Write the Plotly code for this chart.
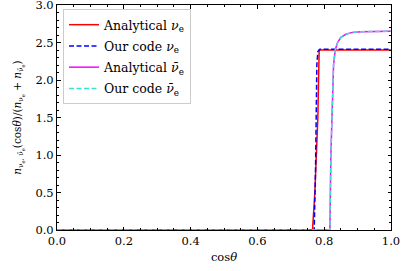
import plotly.graph_objects as go

# Data
red_x = [0.0, 0.765, 0.772, 0.777, 0.781, 0.783, 0.785, 1.0]
red_y = [0.0, 0.0, 0.5, 1.0, 1.5, 2.0, 2.40, 2.40]

blue_x = [0.0, 0.770, 0.774, 0.777, 0.778, 0.781, 0.787, 1.0]
blue_y = [0.0, 0.0, 0.8, 1.6, 2.2, 2.38, 2.41, 2.41]

mag_x = [0.0, 0.817, 0.820, 0.824, 0.828, 0.833, 0.840, 0.850, 0.865, 0.885, 0.910, 1.0]
mag_y = [0.0, 0.0, 1.0, 1.8, 2.2, 2.4, 2.5, 2.57, 2.61, 2.635, 2.645, 2.65]

cyan_x = [0.0, 0.817, 0.820, 0.824, 0.828, 0.833, 0.840, 0.850, 0.865, 0.885, 0.910, 1.0]
cyan_y = [0.0, 0.0, 1.0, 1.8, 2.2, 2.4, 2.5, 2.57, 2.61, 2.635, 2.645, 2.65]

names = ["Analytical <i>ν</i><sub>e</sub>", "Our code <i>ν</i><sub>e</sub>",
         "Analytical <i>ν̄</i><sub>e</sub>", "Our code <i>ν̄</i><sub>e</sub>"]

x_ticks = [0.0, 0.2, 0.4, 0.6, 0.8, 1.0]
y_ticks = [0.0, 0.5, 1.0, 1.5, 2.0, 2.5, 3.0]

FONT = "DejaVu Serif"
DASH = "5px,2.5px"

fig = go.Figure()
fig.add_trace(go.Scatter(x=red_x, y=red_y, mode="lines", name=names[0], legendgroup="a",
                         line=dict(color="red", width=1.5)))
fig.add_trace(go.Scatter(x=blue_x, y=blue_y, mode="lines", name=names[1], legendgroup="b",
                         line=dict(color="blue", width=1.5, dash=DASH)))
fig.add_trace(go.Scatter(x=mag_x, y=mag_y, mode="lines", name=names[2], legendgroup="c",
                         line=dict(color="magenta", width=1.5)))
fig.add_trace(go.Scatter(x=cyan_x, y=cyan_y, mode="lines", name=names[3], legendgroup="d",
                         line=dict(color="#40e0d0", width=1.5, dash=DASH)))

axis_common = dict(
    showgrid=False, zeroline=False, showline=True, linecolor="black",
    linewidth=1, mirror="allticks", ticks="inside", ticklen=3.5,
    tickcolor="black", tickwidth=0.8, automargin=False,
    ticklabeloverflow="allow",
    tickfont=dict(family=FONT, size=11.5, color="black"),
)

fig.update_xaxes(
    range=[0, 1], tickvals=x_ticks, ticktext=[f"{v:.1f}" for v in x_ticks],
    title=dict(text="cos<i>θ</i>", font=dict(family=FONT, size=11.5, color="black"), standoff=6),
    minor=dict(ticks="inside", dtick=0.05, ticklen=2, tickcolor="black", tickwidth=0.6),
    **axis_common,
)
fig.update_yaxes(
    range=[0, 3], tickvals=y_ticks, ticktext=[f"{v:.1f}" for v in y_ticks],
    title=dict(text="<i>n</i><sub>ν<sub>e</sub>, ν̄<sub>e</sub></sub>(cos<i>θ</i>)/(<i>n</i><sub>ν<sub>e</sub></sub> + <i>n</i><sub>ν̄<sub>e</sub></sub>)",
               font=dict(family=FONT, size=10.5, color="black"), standoff=11),
    minor=dict(ticks="inside", dtick=0.1, ticklen=2, tickcolor="black", tickwidth=0.6),
    **axis_common,
)

fig.update_layout(
    width=407, height=271,
    margin=dict(l=57, r=16, t=5, b=41),
    plot_bgcolor="white", paper_bgcolor="white",
    font=dict(family=FONT, size=11.5, color="black"),
    legend=dict(x=0.018, y=0.982, xanchor="left", yanchor="top",
                bgcolor="rgba(255,255,255,0.8)", bordercolor="#cccccc", borderwidth=1,
                font=dict(family=FONT, size=12.5, color="black"),
                itemwidth=30, tracegroupgap=2),
    showlegend=True,
)

fig.write_html("out.html", config={"displayModeBar": False},
               post_script="document.body.style.margin='0';")
